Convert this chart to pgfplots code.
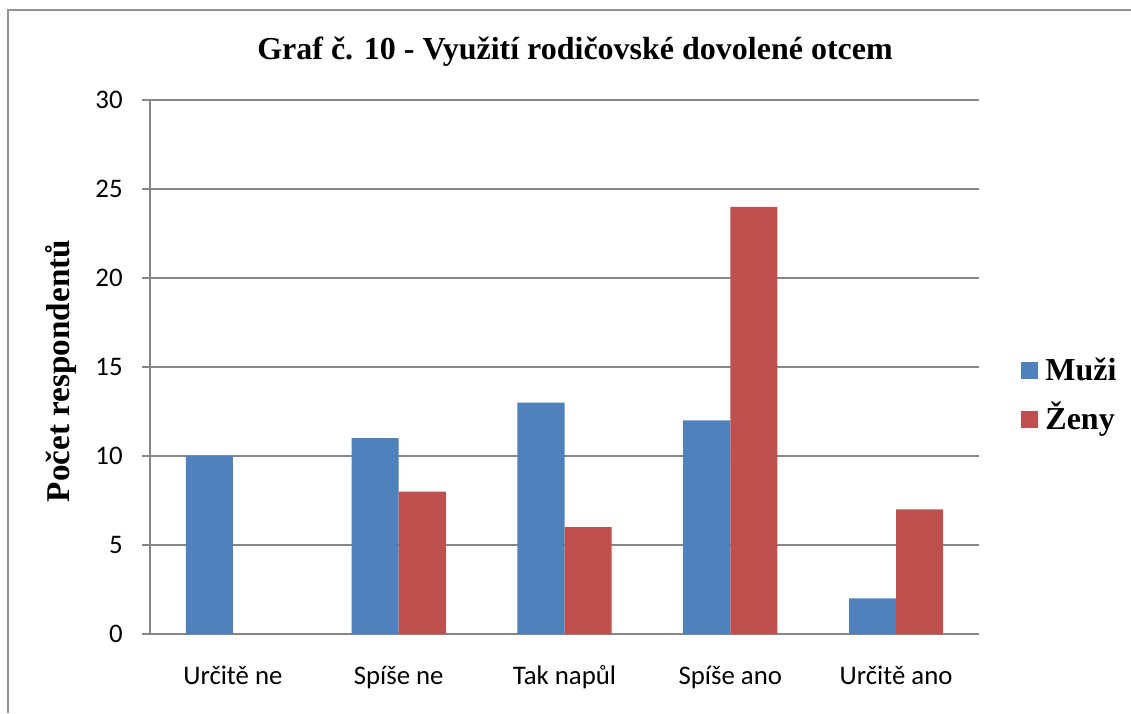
\documentclass[border=0pt]{standalone}
\usepackage{pgfplots}
\pgfplotsset{compat=1.18}
\usepackage{fontspec}
\setmainfont{Liberation Serif}
\newfontfamily\calibri{Carlito}
\definecolor{muzi}{HTML}{4F81BD}
\definecolor{zeny}{HTML}{C0504D}
\definecolor{gridgray}{HTML}{868686}
\begin{document}
\begin{tikzpicture}
\useasboundingbox (0,0) rectangle (565.5pt,356.5pt);
\draw[gridgray!90, line width=0.75pt] (4pt,0) -- (4pt,351.5pt) -- (565.5pt,351.5pt);
\begin{axis}[
  at={(75pt,39.5pt)}, anchor=south west,
  scale only axis, width=414.5pt, height=267pt,
  ybar=0pt, bar width=0.284,
  xmin=-0.5, xmax=4.5, ymin=0, ymax=30,
  xtick={0,1,2,3,4},
  xticklabels={Určitě ne, Spíše ne, Tak napůl, Spíše ano, Určitě ano},
  ytick={0,5,10,15,20,25,30},
  /pgf/number format/assume math mode=true,
  axis x line*=bottom, axis y line*=left,
  axis line style={gridgray, line width=0.8pt},
  ymajorgrids, grid style={gridgray, line width=0.8pt},
  major x tick style={draw=none},
  major y tick style={gridgray, line width=0.8pt},
  tick align=outside, major tick length=4pt,
  ticklabel style={font=\calibri\fontsize{13.4}{16}\selectfont, text=black},
  xticklabel style={anchor=base, inner sep=0pt, yshift=-21pt},
  yticklabel style={anchor=east, inner sep=0pt, xshift=-9.5pt},
  title={Graf č. 10 - Využití rodičovské dovolené otcem},
  title style={at={(axis description cs:0.5127,1)}, anchor=base, yshift=14pt, inner sep=0pt,
    font=\bfseries\fontsize{16}{19}\selectfont},
  ylabel={Počet respondentů},
  ylabel style={at={(axis description cs:-0.1074,0.4925)}, anchor=center, inner sep=0pt,
    font=\bfseries\fontsize{16.6}{19}\selectfont},
  legend image code/.code={\fill[#1] (0pt,-3.5pt) rectangle (8.5pt,5pt);},
  legend style={at={(axis description cs:1.0507,0.4447)}, anchor=west, draw=none, fill=none,
    font=\bfseries\fontsize{16}{19}\selectfont, inner sep=0pt,
    nodes={inner sep=0pt, text height=12pt, text depth=4pt},
    row sep=8.5pt, column sep=3.5pt},
  legend cell align=left,
]
\addplot[fill=muzi, draw=none, bar shift=-0.142] coordinates {(0,10) (1,11) (2,13) (3,12) (4,2)};
\addplot[fill=zeny, draw=none, bar shift=0.142] coordinates {(0,0) (1,8) (2,6) (3,24) (4,7)};
\legend{Muži, Ženy}
\end{axis}
\end{tikzpicture}
\end{document}
